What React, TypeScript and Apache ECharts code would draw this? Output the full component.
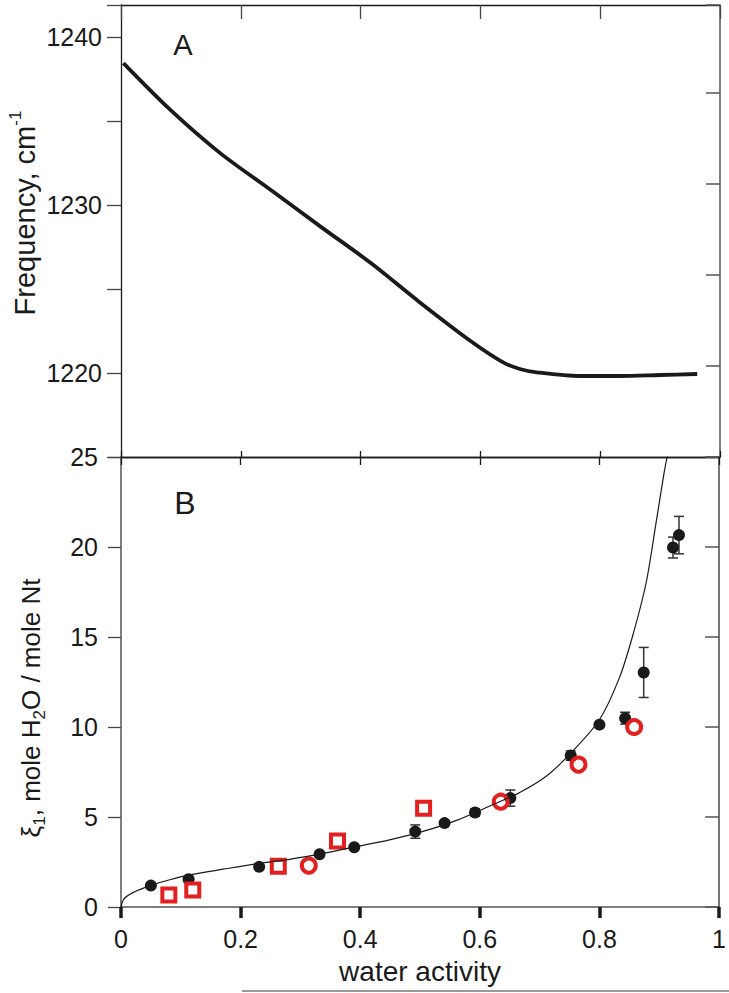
import React, { useEffect, useRef } from "react";
import * as echarts from "echarts";

// Panel A: frequency vs water activity
const freqX = [0.004, 0.082, 0.165, 0.249, 0.332, 0.416, 0.499, 0.583, 0.638, 0.666, 0.694, 0.766, 0.833, 0.9, 0.962];
const freqY = [1238.44, 1235.67, 1233.1, 1230.92, 1228.74, 1226.57, 1224.2, 1221.92, 1220.63, 1220.24, 1220.04, 1219.82, 1219.82, 1219.88, 1219.94];

// Panel B: model curve
const curveX = [0, 0.005, 0.02, 0.05, 0.08, 0.115, 0.171, 0.226, 0.282, 0.338, 0.393, 0.449, 0.505, 0.56, 0.616, 0.666, 0.711, 0.755, 0.8, 0.833, 0.855, 0.878, 0.894, 0.908, 0.915];
const curveY = [0, 0.45, 0.8, 1.2, 1.5, 1.78, 2.1, 2.4, 2.65, 2.98, 3.35, 3.73, 4.2, 4.8, 5.6, 6.35, 7.26, 8.65, 10.4, 12.7, 15.0, 18.0, 21.2, 24.1, 25.3];

// Panel B: black filled circles with error bars
const dotX = [0.05, 0.113, 0.231, 0.332, 0.39, 0.492, 0.541, 0.592, 0.651, 0.752, 0.8, 0.843, 0.874, 0.923, 0.933];
const dotY = [1.19, 1.54, 2.23, 2.93, 3.32, 4.19, 4.66, 5.25, 6.05, 8.41, 10.13, 10.49, 13.03, 19.97, 20.66];
const dotErr = [0, 0, 0, 0, 0, 0.37, 0, 0.2, 0.45, 0.26, 0, 0.33, 1.39, 0.58, 1.04];

// Panel B: red open squares
const sqX = [0.08, 0.12, 0.263, 0.362, 0.506];
const sqY = [0.67, 0.95, 2.27, 3.67, 5.49];

// Panel B: red open circles
const ringX = [0.314, 0.635, 0.765, 0.858];
const ringY = [2.3, 5.85, 7.91, 10.0];

// Axis ticks
const xTicks = [0, 0.2, 0.4, 0.6, 0.8, 1];
const freqTicks = [1215, 1220, 1225, 1230, 1235, 1240];
const xiTicks = [0, 5, 10, 15, 20, 25];

const FONT = "'Liberation Sans', Arial, Helvetica, sans-serif";
const INK = "#1a1a1a";
const RED = "#e2201f";

export default function App() {
  const ref = useRef<HTMLDivElement>(null);

  useEffect(() => {
    if (!ref.current) return;
    const chart = echarts.init(ref.current, undefined, { renderer: "svg" });

    const zip = (xs: number[], ys: number[]) => xs.map((x, i) => [x, ys[i]]);
    const errData = dotX
      .map((x, i) => [x, dotY[i], dotErr[i]])
      .filter((d) => d[2] > 0);

    const line = (color: string, width: number) => ({ show: true, onZero: false, lineStyle: { color, width } });
    const xMin = xTicks[0];
    const xMax = xTicks[xTicks.length - 1];
    const xInt = xTicks[1] - xTicks[0];
    const fInt = freqTicks[1] - freqTicks[0];
    const yInt = xiTicks[1] - xiTicks[0];

    const option: any = {
      animation: false,
      backgroundColor: "#fff",
      grid: [
        { left: 121, top: 5, width: 599, height: 452 },
        { left: 121, top: 457, width: 599, height: 450 },
      ],
      xAxis: [
        {
          gridIndex: 0, type: "value", position: "bottom", min: xMin, max: xMax, interval: xInt,
          axisLine: line(INK, 1.3), axisTick: { inside: true, length: 6, lineStyle: { color: INK, width: 1.3 } },
          axisLabel: { show: false }, splitLine: { show: false },
        },
        {
          gridIndex: 0, type: "value", position: "top", min: xMin, max: xMax, interval: xInt,
          axisLine: line(INK, 1.3), axisTick: { inside: true, length: 14, lineStyle: { color: "#444", width: 1.3 } },
          axisLabel: { show: false }, splitLine: { show: false },
        },
        {
          gridIndex: 1, type: "value", position: "bottom", min: xMin, max: xMax, interval: xInt,
          axisLine: line("#555", 1.5),
          axisTick: { inside: false, length: 11, lineStyle: { color: INK, width: 3.5 } },
          axisLabel: { show: true, fontSize: 25, color: INK, fontFamily: FONT, margin: 19 },
          splitLine: { show: false },
          name: "water activity", nameLocation: "middle", nameGap: 50,
          nameTextStyle: { fontSize: 28, color: INK, fontFamily: FONT },
        },
        {
          gridIndex: 1, type: "value", position: "top", min: xMin, max: xMax, interval: xInt,
          axisLine: line(INK, 1.3), axisTick: { inside: true, length: 8, lineStyle: { color: INK, width: 1.3 } },
          axisLabel: { show: false }, splitLine: { show: false },
        },
      ],
      yAxis: [
        {
          gridIndex: 0, type: "value", position: "left", min: freqTicks[0], max: 1241.9, interval: fInt,
          axisLine: line(INK, 1.3), axisTick: { inside: false, length: 14, lineStyle: { color: "#444", width: 1.3 } },
          axisLabel: {
            fontSize: 25, color: INK, fontFamily: FONT, margin: 19,
            formatter: (v: number) => (Math.round(v) % 10 === 0 ? String(Math.round(v)) : ""),
          },
          splitLine: { show: false },
        },
        {
          // right frame of panel A: unlabeled ticks spaced like panel B's scale
          gridIndex: 0, type: "value", position: "right", min: 0, max: 452, interval: 91,
          axisLine: line("#555", 1.5),
          axisTick: { inside: true, length: 14, lineStyle: { color: "#555", width: 1.5 } },
          axisLabel: { show: false }, splitLine: { show: false },
        },
        {
          gridIndex: 1, type: "value", position: "left", min: xiTicks[0], max: xiTicks[xiTicks.length - 1], interval: yInt,
          axisLine: line("#555", 1.5),
          axisTick: { inside: false, length: 13, lineStyle: { color: "#444", width: 1.3 } },
          axisLabel: { fontSize: 25, color: INK, fontFamily: FONT, margin: 23 },
          splitLine: { show: false },
        },
        {
          gridIndex: 1, type: "value", position: "right", min: xiTicks[0], max: xiTicks[xiTicks.length - 1], interval: yInt,
          axisLine: line("#666", 1.8),
          axisTick: { inside: true, length: 14, lineStyle: { color: "#555", width: 1.5 } },
          axisLabel: { show: false }, splitLine: { show: false },
        },
      ],
      series: [
        {
          type: "line", xAxisIndex: 0, yAxisIndex: 0, data: zip(freqX, freqY),
          smooth: 0.3, showSymbol: false, lineStyle: { color: INK, width: 3.8 },
        },
        {
          type: "line", xAxisIndex: 2, yAxisIndex: 2, data: zip(curveX, curveY),
          smooth: 0.3, showSymbol: false, lineStyle: { color: INK, width: 1.2 },
        },
        {
          type: "custom", xAxisIndex: 2, yAxisIndex: 2, data: errData,
          renderItem: (params: any, api: any) => {
            const x = api.value(0), y = api.value(1), e = api.value(2);
            const t = api.coord([x, y + e]);
            const b = api.coord([x, y - e]);
            const hw = 5;
            const style = { stroke: "#333", lineWidth: 1.5 };
            return {
              type: "group",
              children: [
                { type: "line", shape: { x1: t[0], y1: t[1], x2: b[0], y2: b[1] }, style },
                { type: "line", shape: { x1: t[0] - hw, y1: t[1], x2: t[0] + hw, y2: t[1] }, style },
                { type: "line", shape: { x1: b[0] - hw, y1: b[1], x2: b[0] + hw, y2: b[1] }, style },
              ],
            };
          },
        },
        {
          type: "scatter", xAxisIndex: 2, yAxisIndex: 2, data: zip(dotX, dotY),
          symbol: "circle", symbolSize: 12, itemStyle: { color: INK, opacity: 1 },
        },
        {
          type: "scatter", xAxisIndex: 2, yAxisIndex: 2, data: zip(sqX, sqY),
          symbol: "rect", symbolSize: 13,
          itemStyle: { color: "#fff", opacity: 1, borderColor: RED, borderWidth: 4 },
        },
        {
          type: "scatter", xAxisIndex: 2, yAxisIndex: 2, data: zip(ringX, ringY),
          symbol: "circle", symbolSize: 14,
          itemStyle: { color: "rgba(255,255,255,0)", opacity: 1, borderColor: RED, borderWidth: 4 },
        },
      ],
      graphic: [
        {
          type: "text", x: 183, y: 45,
          style: { text: "A", fontSize: 29, fontFamily: FONT, fill: INK, textAlign: "center", textVerticalAlign: "middle" },
        },
        {
          type: "text", x: 185, y: 503,
          style: { text: "B", fontSize: 32, fontFamily: FONT, fill: INK, textAlign: "center", textVerticalAlign: "middle" },
        },
        {
          type: "text", x: 25, y: 213, rotation: Math.PI / 2,
          style: {
            text: "Frequency, cm{sup|-1}",
            fontSize: 29, fontFamily: FONT, fill: INK, lineHeight: 36,
            textAlign: "center", textVerticalAlign: "middle",
            rich: { sup: { fontSize: 17, fontFamily: FONT, fill: INK, lineHeight: 17, verticalAlign: "top" } },
          },
        },
        {
          type: "text", x: 31, y: 708, rotation: Math.PI / 2,
          style: {
            text: "ξ{sub|1}, mole H{sub|2}O / mole Nt",
            fontSize: 26, fontFamily: FONT, fill: INK, lineHeight: 33,
            textAlign: "center", textVerticalAlign: "middle",
            rich: { sub: { fontSize: 17, fontFamily: FONT, fill: INK, lineHeight: 17, verticalAlign: "bottom" } },
          },
        },
        {
          type: "line", shape: { x1: 242, y1: 991, x2: 729, y2: 991 },
          style: { stroke: "#777", lineWidth: 1.5 },
        },
      ],
    };

    chart.setOption(option);
    return () => chart.dispose();
  }, []);

  return (
    <div
      ref={ref}
      style={{ position: "absolute", left: 0, top: 0, width: 729, height: 993, background: "#fff" }}
    />
  );
}
